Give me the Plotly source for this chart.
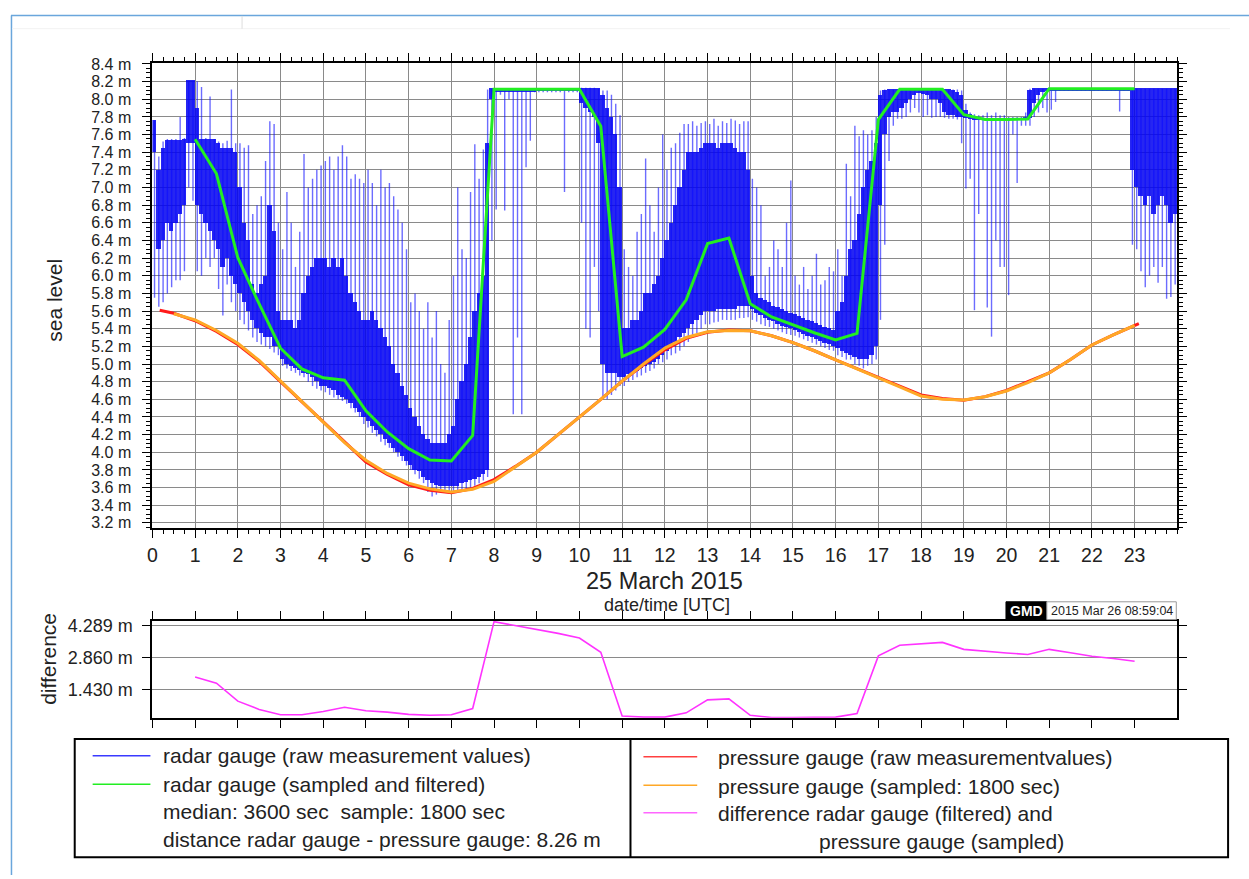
import numpy as np
import plotly.graph_objects as go

W, H = 1249, 879

# ---------------------------------------------------------------- data
# sample times [hours UTC, 25 March 2015]
filtered_hours = np.arange(1.0, 23.01, 0.5)
pressure_hours = np.arange(0.5, 23.01, 0.5)
pressure_raw_hours = np.concatenate(([0.17], pressure_hours, [23.1]))

# radar gauge, median 3600 s, sampled every 1800 s [m]
radar_filtered = [7.546, 7.155, 6.204, 5.68, 5.179, 4.944, 4.843, 4.817, 4.47, 4.23,
                  4.041, 3.911, 3.90, 4.19, 8.113, 8.113, 8.113, 8.113, 8.113, 7.695,
                  5.085, 5.19, 5.391, 5.727, 6.364, 6.428, 5.682, 5.533, 5.44, 5.354,
                  5.272, 5.346, 7.77, 8.113, 8.113, 8.113, 7.826, 7.77, 7.77, 7.777,
                  8.12, 8.12, 8.12, 8.12, 8.12]

# pressure gauge, sampled every 1800 s [m]
pressure_sampled = [5.57, 5.50, 5.38, 5.235, 5.04, 4.81, 4.57, 4.34, 4.11, 3.91,
                    3.76, 3.65, 3.585, 3.55, 3.58, 3.67, 3.83, 4.00, 4.20, 4.395,
                    4.60, 4.806, 5.00, 5.18, 5.30, 5.365, 5.38, 5.376, 5.32, 5.242,
                    5.15, 5.048, 4.95, 4.843, 4.74, 4.638, 4.60, 4.593, 4.63, 4.694,
                    4.79, 4.899, 5.05, 5.216, 5.33, 5.439]

# pressure gauge, raw measurement values [m]
pressure_raw = [5.61, 5.575, 5.49, 5.37, 5.22, 5.03, 4.80, 4.57, 4.34, 4.11, 3.89,
                3.75, 3.63, 3.57, 3.54, 3.59, 3.69, 3.84, 4.00, 4.20, 4.395,
                4.60, 4.806, 4.99, 5.16, 5.29, 5.36, 5.385, 5.376, 5.32, 5.242,
                5.15, 5.048, 4.95, 4.843, 4.75, 4.65, 4.61, 4.59, 4.63, 4.70,
                4.80, 4.90, 5.05, 5.216, 5.33, 5.439, 5.458]

# difference radar gauge (filtered) - pressure gauge (sampled) [m]
difference = [1.99, 1.72, 0.92, 0.55, 0.315, 0.315, 0.46, 0.65, 0.49, 0.43,
              0.33, 0.29, 0.315, 0.59, 4.45, 4.28, 4.11, 3.93, 3.72, 3.09,
              0.26, 0.21, 0.21, 0.40, 0.975, 1.02, 0.29, 0.19, 0.19, 0.19,
              0.21, 0.37, 2.93, 3.40, 3.48, 3.53, 3.22, 3.13, 3.06, 2.99,
              3.22, 3.07, 2.91, 2.81, 2.69]

# radar gauge raw values, summarised per 6-minute bin (one row per hour):
# full extent of the readings and the densely populated part
raw_max = [
    [7.76, 7.35, 7.52, 7.55, 7.55, 7.55, 7.80, 7.56, 8.21, 8.21],
    [8.20, 8.14, 7.56, 8.03, 7.55, 7.52, 7.50, 7.53, 8.11, 7.50],
    [7.50, 7.45, 7.48, 6.70, 6.80, 6.90, 7.30, 7.75, 7.72, 6.60],
    [6.30, 6.95, 6.60, 6.10, 6.50, 7.38, 7.00, 7.10, 7.20, 7.25],
    [7.30, 7.35, 7.20, 7.35, 7.48, 7.35, 7.10, 7.15, 7.10, 7.05],
    [7.20, 7.05, 6.80, 7.20, 7.00, 7.05, 6.90, 6.75, 6.60, 6.30],
    [5.70, 5.80, 5.60, 5.40, 5.70, 5.30, 5.60, 5.00, 4.90, 5.50],
    [6.00, 7.00, 6.30, 6.20, 6.95, 7.49, 7.10, 7.43, 8.11, 8.12],
    [8.12, 8.12, 8.12, 8.12, 8.12, 8.12, 8.12, 8.12, 8.12, 8.12],
    [8.12, 8.12, 8.12, 8.12, 8.12, 8.12, 8.12, 8.12, 8.12, 8.12],
    [8.13, 8.13, 8.13, 8.13, 8.12, 8.10, 8.10, 8.05, 7.95, 7.82],
    [6.30, 6.10, 6.00, 6.50, 6.70, 7.33, 6.80, 6.50, 7.00, 7.60],
    [7.20, 7.45, 7.50, 7.62, 7.72, 7.72, 7.75, 7.70, 7.73, 7.75],
    [7.72, 7.78, 7.70, 7.75, 7.73, 7.78, 7.76, 7.72, 7.75, 7.75],
    [7.10, 7.00, 6.80, 6.00, 6.10, 6.40, 6.30, 6.10, 6.60, 7.08],
    [6.00, 5.90, 6.10, 5.85, 6.00, 6.25, 5.90, 5.95, 6.10, 6.05],
    [6.30, 6.00, 7.27, 6.90, 7.70, 7.58, 7.65, 7.60, 7.65, 7.80],
    [8.10, 8.11, 8.11, 8.11, 8.11, 8.11, 8.11, 8.11, 8.11, 8.11],
    [8.11, 8.11, 8.11, 8.11, 8.11, 8.11, 8.11, 8.11, 8.11, 8.10],
    [7.95, 7.85, 7.83, 7.82, 7.82, 7.85, 7.82, 7.85, 7.82, 7.82],
    [7.80, 7.80, 7.80, 7.80, 7.85, 8.12, 8.12, 8.12, 8.12, 8.12],
    [8.12, 8.12, 8.12, 8.12, 8.12, 8.12, 8.12, 8.12, 8.12, 8.12],
    [8.12, 8.12, 8.12, 8.12, 8.12, 8.12, 8.12, 8.12, 8.12, 8.12],
    [8.12, 8.12, 8.12, 8.12, 8.12, 8.12, 8.12, 8.12, 8.12, 8.12],
]
raw_min = [
    [5.75, 5.65, 5.70, 5.80, 5.87, 5.95, 5.95, 6.05, 7.00, 6.85],
    [6.05, 6.00, 6.20, 6.10, 6.20, 5.85, 5.55, 5.90, 5.70, 5.60],
    [5.50, 5.45, 5.38, 5.30, 5.25, 5.22, 5.20, 5.17, 5.13, 5.10],
    [4.98, 4.95, 4.92, 4.90, 4.87, 4.85, 4.80, 4.75, 4.72, 4.70],
    [4.68, 4.65, 4.62, 4.60, 4.58, 4.55, 4.50, 4.45, 4.40, 4.32],
    [4.28, 4.22, 4.18, 4.12, 4.08, 4.05, 4.00, 3.95, 3.90, 3.85],
    [3.80, 3.75, 3.70, 3.65, 3.55, 3.50, 3.52, 3.55, 3.56, 3.55],
    [3.55, 3.55, 3.56, 3.58, 3.60, 3.62, 3.65, 3.68, 3.72, 6.40],
    [6.75, 8.05, 6.74, 8.00, 4.43, 5.30, 4.43, 7.23, 7.53, 8.08],
    [8.08, 8.08, 8.08, 8.08, 8.08, 8.08, 6.95, 8.08, 8.08, 8.08],
    [6.60, 5.40, 5.30, 6.10, 5.60, 4.62, 4.60, 4.65, 4.70, 4.75],
    [4.75, 4.80, 4.82, 4.85, 4.87, 4.90, 4.92, 4.95, 5.00, 5.02],
    [5.05, 5.10, 5.12, 5.15, 5.20, 5.25, 5.30, 5.35, 5.40, 5.45],
    [5.45, 5.47, 5.48, 5.50, 5.50, 5.50, 5.50, 5.52, 5.52, 5.53],
    [5.50, 5.48, 5.45, 5.43, 5.42, 5.40, 5.38, 5.36, 5.34, 5.33],
    [5.32, 5.30, 5.28, 5.26, 5.24, 5.22, 5.20, 5.18, 5.16, 5.15],
    [5.10, 5.08, 5.05, 5.05, 5.00, 4.98, 4.95, 4.98, 5.00, 5.05],
    [5.50, 6.35, 7.30, 7.70, 7.78, 7.78, 7.80, 7.85, 7.90, 7.85],
    [7.80, 7.82, 7.79, 7.80, 7.80, 7.79, 7.78, 7.78, 7.77, 7.50],
    [6.99, 7.10, 5.61, 6.70, 7.20, 5.64, 5.31, 6.40, 6.10, 6.10],
    [5.78, 7.60, 7.05, 7.70, 7.70, 7.70, 7.80, 7.85, 7.90, 7.85],
    [7.88, 7.97, 8.10, 8.10, 8.10, 8.10, 8.10, 8.10, 8.10, 8.10],
    [8.10, 8.10, 8.10, 8.10, 8.10, 8.10, 7.86, 8.10, 8.10, 6.35],
    [6.30, 6.05, 5.87, 6.00, 6.10, 5.92, 6.10, 5.74, 5.76, 5.90],
]
dense_max = [
    [7.76, 7.20, 7.45, 7.53, 7.53, 7.53, 7.54, 7.55, 8.21, 8.21],
    [7.90, 7.55, 7.55, 7.55, 7.55, 7.50, 7.45, 7.45, 7.45, 7.40],
    [7.00, 6.60, 6.40, 5.90, 5.80, 5.90, 6.00, 6.80, 6.50, 5.60],
    [5.50, 5.50, 5.50, 5.40, 5.50, 5.80, 6.00, 6.10, 6.20, 6.20],
    [6.20, 6.10, 6.20, 6.10, 6.20, 6.00, 5.80, 5.70, 5.60, 5.50],
    [5.50, 5.60, 5.50, 5.40, 5.30, 5.20, 5.00, 4.90, 4.75, 4.65],
    [4.50, 4.40, 4.30, 4.20, 4.15, 4.10, 4.10, 4.10, 4.10, 4.20],
    [4.30, 4.60, 4.80, 5.00, 5.30, 5.60, 5.80, 6.00, 7.50, 8.12],
    [8.12, 8.12, 8.12, 8.12, 8.12, 8.12, 8.12, 8.12, 8.12, 8.12],
    [8.12, 8.12, 8.12, 8.12, 8.12, 8.12, 8.12, 8.12, 8.12, 8.12],
    [8.13, 8.13, 8.13, 8.12, 8.12, 8.05, 7.90, 7.80, 7.60, 7.00],
    [5.40, 5.40, 5.50, 5.50, 5.60, 5.80, 5.80, 5.90, 6.00, 6.20],
    [6.40, 6.60, 6.80, 7.00, 7.20, 7.40, 7.40, 7.40, 7.45, 7.50],
    [7.50, 7.50, 7.45, 7.50, 7.50, 7.50, 7.45, 7.40, 7.40, 7.20],
    [6.00, 5.80, 5.75, 5.72, 5.70, 5.66, 5.64, 5.62, 5.60, 5.58],
    [5.56, 5.54, 5.52, 5.50, 5.48, 5.46, 5.44, 5.42, 5.40, 5.38],
    [5.60, 5.70, 6.00, 6.30, 6.40, 6.70, 7.00, 7.20, 7.30, 7.50],
    [8.05, 8.10, 8.11, 8.11, 8.11, 8.11, 8.11, 8.11, 8.11, 8.11],
    [8.11, 8.11, 8.11, 8.11, 8.11, 8.11, 8.11, 8.10, 8.08, 8.05],
    [7.88, 7.83, 7.80, 7.79, 7.79, 7.79, 7.79, 7.79, 7.79, 7.79],
    [7.79, 7.79, 7.79, 7.79, 7.80, 8.10, 8.12, 8.12, 8.12, 8.12],
    [8.12, 8.12, 8.12, 8.12, 8.12, 8.12, 8.12, 8.12, 8.12, 8.12],
    [8.12, 8.12, 8.12, 8.12, 8.12, 8.12, 8.12, 8.12, 8.12, 8.12],
    [8.12, 8.12, 8.12, 8.12, 8.12, 8.12, 8.12, 8.12, 8.12, 8.12],
]
dense_min = [
    [7.40, 6.30, 6.40, 6.60, 6.50, 6.60, 6.70, 6.80, 7.50, 7.50],
    [6.80, 6.70, 6.60, 6.50, 6.40, 6.30, 6.10, 6.20, 6.00, 5.90],
    [5.80, 5.70, 5.60, 5.50, 5.40, 5.35, 5.30, 5.30, 5.20, 5.20],
    [5.05, 5.00, 4.98, 4.95, 4.93, 4.90, 4.88, 4.85, 4.80, 4.75],
    [4.75, 4.72, 4.70, 4.65, 4.62, 4.60, 4.55, 4.50, 4.45, 4.40],
    [4.35, 4.30, 4.25, 4.20, 4.15, 4.10, 4.05, 4.00, 3.95, 3.90],
    [3.85, 3.80, 3.78, 3.72, 3.68, 3.65, 3.63, 3.62, 3.62, 3.62],
    [3.62, 3.62, 3.65, 3.66, 3.68, 3.70, 3.72, 3.75, 3.80, 8.00],
    [8.08, 8.08, 8.08, 8.08, 8.08, 8.08, 8.08, 8.08, 8.08, 8.08],
    [8.09, 8.09, 8.09, 8.09, 8.09, 8.09, 8.09, 8.09, 8.09, 8.09],
    [7.95, 7.90, 7.85, 7.80, 7.50, 5.00, 4.90, 4.90, 4.90, 4.85],
    [4.85, 4.88, 4.90, 4.92, 4.95, 4.98, 5.00, 5.02, 5.05, 5.10],
    [5.15, 5.20, 5.25, 5.30, 5.35, 5.40, 5.45, 5.50, 5.55, 5.60],
    [5.60, 5.60, 5.62, 5.62, 5.62, 5.62, 5.62, 5.65, 5.65, 5.65],
    [5.62, 5.58, 5.55, 5.52, 5.50, 5.48, 5.45, 5.43, 5.42, 5.40],
    [5.38, 5.36, 5.34, 5.32, 5.30, 5.28, 5.26, 5.24, 5.22, 5.20],
    [5.18, 5.15, 5.12, 5.10, 5.08, 5.05, 5.05, 5.05, 5.10, 5.20],
    [6.80, 7.60, 7.80, 7.85, 7.85, 7.90, 7.95, 8.00, 8.05, 8.07],
    [8.06, 8.05, 8.00, 8.00, 7.95, 7.85, 7.82, 7.82, 7.80, 7.80],
    [7.78, 7.77, 7.76, 7.76, 7.76, 7.75, 7.75, 7.75, 7.75, 7.75],
    [7.75, 7.76, 7.76, 7.76, 7.76, 7.78, 7.95, 8.05, 8.08, 8.09],
    [8.10, 8.10, 8.10, 8.10, 8.10, 8.10, 8.10, 8.10, 8.10, 8.10],
    [8.10, 8.10, 8.10, 8.10, 8.10, 8.10, 8.10, 8.10, 8.10, 7.20],
    [7.00, 6.90, 6.80, 6.90, 6.70, 6.80, 6.90, 6.80, 6.60, 6.70],
]

BIN = 0.1  # 6-minute bins
bin_centres = np.arange(240) * BIN + BIN / 2
raw_max = np.ravel(raw_max)
raw_min = np.ravel(raw_min)
dense_max = np.ravel(dense_max)
dense_min = np.ravel(dense_min)

main_ticks = np.round(np.arange(3.2, 8.41, 0.2), 1)
diff_ticks = [1.430, 2.860, 4.289]
diff_tick_text = ["1.430 m", "2.860 m", "4.289 m"]
hour_ticks = list(range(24))

# ---------------------------------------------------------------- colours
BLUE = "#0000f0"
BLUE_SPIKE = "rgba(10,10,255,0.6)"
GREEN = "#22ee22"
RED = "#ff1a1a"
ORANGE = "#ffa826"
MAGENTA = "#ff33ff"
GRID = "#8a8a8a"
TXT = "#222222"
FONT = "Liberation Sans, Arial, sans-serif"


def px(x):
    return x / W


def py(y):
    return 1 - y / H


fig = go.Figure()

# raw radar readings: spread of each bin
sx, sy = [], []
for c, lo, hi in zip(bin_centres, raw_min, raw_max):
    sx += [c, c, None]
    sy += [lo, hi, None]
fig.add_trace(go.Scatter(x=sx, y=sy, mode="lines", line=dict(color=BLUE_SPIKE, width=1.4),
                         hoverinfo="skip", showlegend=False, xaxis="x", yaxis="y"))
# densely populated part of each bin
fig.add_trace(go.Bar(x=bin_centres, base=dense_min, y=dense_max - dense_min, width=BIN,
                     marker=dict(color=BLUE, line=dict(width=0)), opacity=0.85,
                     hoverinfo="skip", showlegend=False, xaxis="x", yaxis="y"))

fig.add_trace(go.Scatter(x=pressure_raw_hours, y=pressure_raw, mode="lines",
                         line=dict(color=RED, width=3), showlegend=False,
                         xaxis="x", yaxis="y"))
fig.add_trace(go.Scatter(x=pressure_hours, y=pressure_sampled, mode="lines",
                         line=dict(color=ORANGE, width=3), showlegend=False,
                         xaxis="x", yaxis="y"))
fig.add_trace(go.Scatter(x=filtered_hours, y=radar_filtered, mode="lines",
                         line=dict(color=GREEN, width=3), showlegend=False,
                         xaxis="x", yaxis="y"))

fig.add_trace(go.Scatter(x=filtered_hours, y=difference, mode="lines",
                         line=dict(color=MAGENTA, width=1.6), showlegend=False,
                         xaxis="x2", yaxis="y2"))

x_dom = [px(148), px(1177)]

axis_common = dict(showline=True, linecolor="black", linewidth=2, mirror="allticks",
                   ticks="outside", tickcolor="black", zeroline=False,
                   tickfont=dict(family=FONT, size=19.5, color=TXT))

fig.update_layout(
    width=W, height=H, autosize=False,
    margin=dict(l=0, r=0, t=0, b=0),
    paper_bgcolor="white", plot_bgcolor="white",
    bargap=0, barmode="overlay",
    font=dict(family=FONT, color=TXT),
    xaxis=dict(axis_common, domain=x_dom, range=[0, 24], anchor="y",
               tickmode="array", tickvals=hour_ticks, ticklen=8,
               showgrid=True, gridcolor=GRID, gridwidth=1,
               ticklabelstandoff=1,
               minor=dict(tickmode="linear", tick0=0, dtick=0.25, ticklen=4,
                          ticks="outside", tickcolor="black", showgrid=False)),
    yaxis=dict(axis_common, domain=[py(527), py(56)], range=[3.144, 8.408], anchor="x",
               tickmode="array", tickvals=main_ticks,
               ticktext=[f"{v:.1f} m" for v in main_ticks], ticklen=8,
               showgrid=True, gridcolor=GRID, gridwidth=1,
               tickfont=dict(family=FONT, size=16, color=TXT),
               ticklabelstandoff=8,
               minor=dict(tickmode="linear", tick0=3.2, dtick=0.05, ticklen=4,
                          ticks="outside", tickcolor="black", showgrid=False)),
    xaxis2=dict(axis_common, domain=x_dom, range=[0, 24], anchor="y2",
                tickmode="array", tickvals=hour_ticks, ticklen=8,
                showticklabels=False, showgrid=False),
    yaxis2=dict(axis_common, domain=[py(719.5), py(621.5)], range=[0.185, 4.478],
                anchor="x2", tickmode="array", tickvals=diff_ticks,
                ticktext=diff_tick_text, ticklen=8,
                tickfont=dict(family=FONT, size=18, color=TXT),
                ticklabelstandoff=6,
                showgrid=True, gridcolor=GRID, gridwidth=1),
)

shapes = []
annotations = []


def text(x, y, s, size, xanchor="left", angle=0, color=TXT, bold=False):
    annotations.append(dict(
        x=px(x), y=py(y), xref="paper", yref="paper", text=f"<b>{s}</b>" if bold else s,
        showarrow=False, xanchor=xanchor, yanchor="middle", textangle=angle,
        font=dict(family=FONT, size=size, color=color)))


def hline(x0, x1, y, color, width):
    shapes.append(dict(type="line", xref="paper", yref="paper",
                       x0=px(x0), x1=px(x1), y0=py(y), y1=py(y),
                       line=dict(color=color, width=width)))


def vline(x, y0, y1, color, width):
    shapes.append(dict(type="line", xref="paper", yref="paper",
                       x0=px(x), x1=px(x), y0=py(y0), y1=py(y1),
                       line=dict(color=color, width=width)))


def rect(x0, y0, x1, y1, line_color, fill, width):
    shapes.append(dict(type="rect", xref="paper", yref="paper",
                       x0=px(x0), x1=px(x1), y0=py(y1), y1=py(y0),
                       line=dict(color=line_color, width=width), fillcolor=fill))


# page frame
hline(6, W, 7.5, "#6aa6dc", 1.5)
vline(6.5, 7.5, H, "#6aa6dc", 1.5)
hline(7, 1230, 21, "#f2f2f2", 1)
vline(238, 8, 21, "#dddddd", 1)

# axis titles
text(50, 296, "sea level", 21, xanchor="center", angle=-90)
text(44, 660, "difference", 21, xanchor="center", angle=-90)
text(662, 581, "25 March 2015", 23.5, xanchor="center")
text(665, 605, "date/time [UTC]", 18, xanchor="center")

# creation stamp
rect(1005, 602, 1046, 620, "black", "black", 1)
rect(1046, 602, 1176, 620, "#9a9a9a", "white", 1)
text(1025.5, 611, "GMD", 14, xanchor="center", color="white", bold=True)
text(1111, 611, "2015 Mar 26 08:59:04", 12.5, xanchor="center")

# legend box
rect(70, 741, 1228, 861, "black", "rgba(0,0,0,0)", 2)
vline(628, 741, 861, "black", 2)

left_rows = [758, 787, 815, 843]
right_rows = [760, 789, 817, 845]
hline(88, 146, left_rows[0], "#3a3aff", 1.5)
hline(88, 146, left_rows[1], GREEN, 1.5)
text(157, left_rows[0], "radar gauge (raw measurement values)", 21)
text(157, left_rows[1], "radar gauge (sampled and filtered)", 21)
text(157, left_rows[2], "median: 3600 sec&nbsp;&nbsp;sample: 1800 sec", 21)
text(157, left_rows[3], "distance radar gauge - pressure gauge: 8.26 m", 21)

hline(641, 695, right_rows[0] - 1, "#ff4040", 1.5)
hline(641, 695, right_rows[1] - 1, ORANGE, 1.5)
hline(641, 695, right_rows[2] - 1, "#ff66ff", 1.5)
text(714, right_rows[0], "pressure gauge (raw measurementvalues)", 21)
text(714, right_rows[1], "pressure gauge (sampled: 1800 sec)", 21)
text(714, right_rows[2], "difference radar gauge (filtered) and", 21)
text(815, right_rows[3], "pressure gauge (sampled)", 21)

fig.update_layout(shapes=shapes, annotations=annotations)

fig.write_html("out.html")
